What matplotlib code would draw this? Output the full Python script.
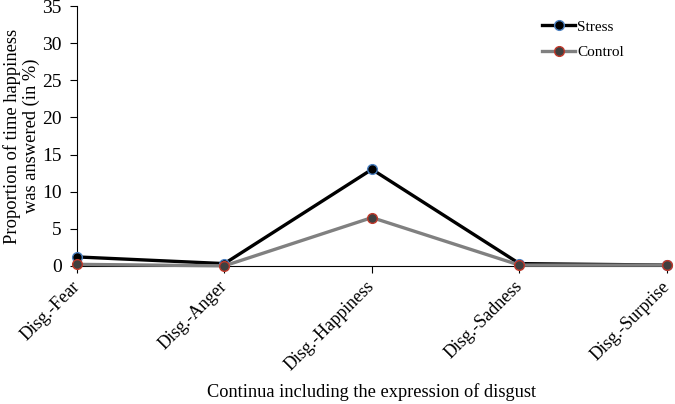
import matplotlib.pyplot as plt

plt.rcParams['font.family'] = ['Liberation Serif', 'DejaVu Serif']

categories = ["Disg.-Fear", "Disg.-Anger", "Disg.-Happiness", "Disg.-Sadness", "Disg.-Surprise"]
stress = [1.2, 0.3, 13.0, 0.3, 0.1]
control = [0.2, 0.0, 6.5, 0.1, 0.1]

fig = plt.figure(figsize=(6.75, 4.04), dpi=100)
ax = fig.add_axes([0.114, 0.342, 0.874, 0.643])

x = range(len(categories))
ax.plot(x, stress, color="black", lw=2.4, marker="o", ms=7,
        markerfacecolor="black", markeredgecolor="#4a7fc0", markeredgewidth=1,
        label="Stress", zorder=3, clip_on=False)
ax.plot(x, control, color="#808080", lw=2.4, marker="o", ms=7,
        markerfacecolor="#404040", markeredgecolor="#c0392b", markeredgewidth=1,
        label="Control", zorder=4, clip_on=False)

ax.set_xlim(0, len(categories) - 1)
ax.set_ylim(0, 35)
ax.set_yticks(range(0, 36, 5))
ax.set_xticks(list(x))
ax.set_xticklabels(categories, rotation=45, ha="right", va="center", rotation_mode="anchor")
ax.tick_params(direction="out", length=5)
ax.tick_params(axis="y", labelsize=14, pad=6)
ax.tick_params(axis="x", labelsize=13, pad=8)
for s in ["top", "right"]:
    ax.spines[s].set_visible(False)
ax.set_ylabel("Proportion of time happiness\nwas answered (in %)", fontsize=13.3, linespacing=1.1)
ax.yaxis.set_label_coords(-0.063, 0.5)

fig.text(0.55, 0.03, "Continua including the expression of disgust", fontsize=13.2,
         ha="center", va="center")

ax.legend(loc="upper right", bbox_to_anchor=(0.95, 1.0), frameon=False, fontsize=11,
          handlelength=2.2, handletextpad=0.1, labelspacing=0.8)

fig.savefig("out.png", dpi=100)
